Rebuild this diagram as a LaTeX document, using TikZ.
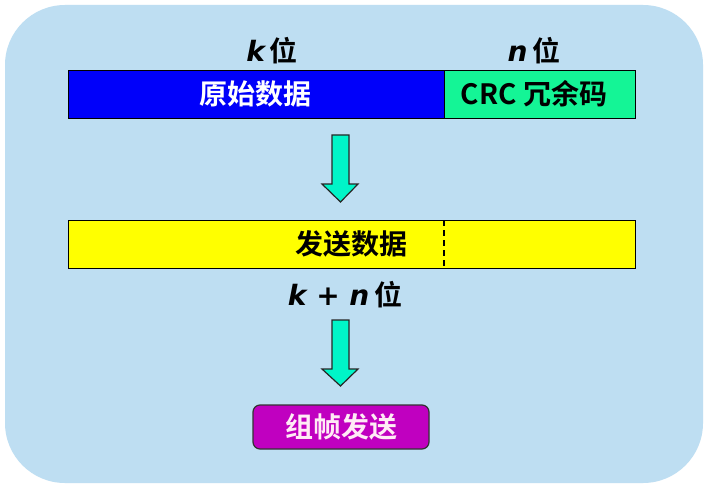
\documentclass[tikz,border=0pt]{standalone}
\usepackage{fontspec}
\setmainfont{Noto Sans CJK SC}[BoldFont={* Bold}]
\newfontfamily\cjkb{Noto Sans CJK SC Bold}
\newfontfamily\latb{DejaVu Sans}[BoldItalicFont={DejaVu Sans Bold Oblique}]
\newcommand{\vv}[1]{{\latb\bfseries\itshape #1}}
\definecolor{bgblue}{RGB}{190,222,242}
\definecolor{barblue}{RGB}{0,0,250}
\definecolor{bargreen}{RGB}{20,245,150}
\definecolor{baryellow}{RGB}{255,255,0}
\definecolor{arrowc}{RGB}{0,245,200}
\definecolor{purp}{RGB}{192,0,192}
\definecolor{pinkw}{RGB}{255,235,245}
\begin{document}
\begin{tikzpicture}[x=1pt,y=1pt,
  bar/.style={draw=black,line width=1.3pt,inner sep=0pt,minimum height=48pt},
  lbl/.style={font=\cjkb\fontsize{28}{30}\selectfont,inner sep=0pt},
  blockarrow/.style={fill=arrowc,draw=black!85,line width=1.2pt,line join=miter}]
\useasboundingbox (0,0) rectangle (708,488);
\fill[white] (0,0) rectangle (708,488);
\fill[bgblue,rounded corners=60pt] (5,5) rectangle (703,483);
% top bar
\node[bar,fill=barblue,minimum width=376pt,anchor=north west] (orig) at (68,418) {};
\node[bar,fill=bargreen,minimum width=191pt,anchor=north west] (crc) at (444,418) {};
\node[lbl,text=white] (origt) at (255,394) {原始数据};
\node[lbl,text=black] (crct) at (534,394) {CRC 冗余码};
\node[lbl] (kbit) at (272,437) {\vv{k}\,位};
\node[lbl] (nbit) at (534,437) {\vv{n}\,位};
% arrow 1
\draw[blockarrow] (332,353) -- (349,353) -- (349,304) -- (358,304) -- (340.5,286) -- (322,304) -- (332,304) -- cycle;
% yellow bar
\node[bar,fill=baryellow,minimum width=567pt,anchor=north west] (send) at (68,268) {};
\draw[black,line width=1.2pt,dash pattern=on 6pt off 4pt] (444,268) -- (444,220);
\node[lbl] (sendt) at (351,244) {发送数据};
\node[lbl] (kn) at (345,193) {\vv{k + n}\,位};
% arrow 2
\draw[blockarrow] (332,168) -- (349,168) -- (349,119) -- (358,119) -- (340.5,102) -- (322,119) -- (332,119) -- cycle;
% frame box
\node[draw=black!80,line width=1.2pt,fill=purp,rounded corners=7pt,minimum width=176pt,minimum height=44pt,inner sep=0pt] (frame) at (341,61) {};
\node[lbl,text=pinkw] (framet) at (341,61) {组帧发送};
\end{tikzpicture}
\end{document}
